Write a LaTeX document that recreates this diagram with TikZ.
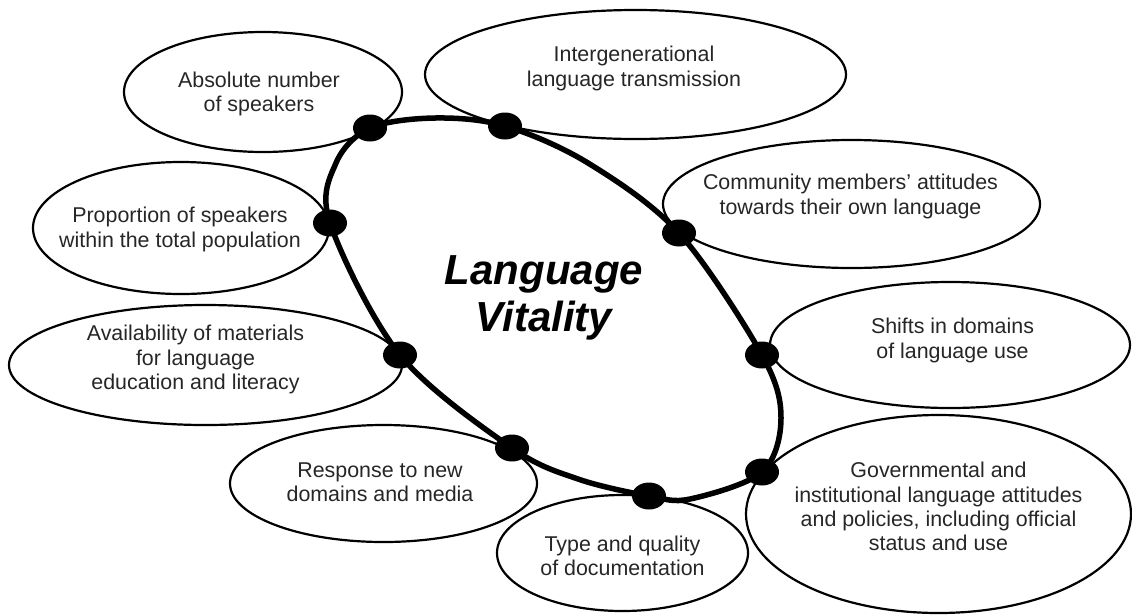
\documentclass[tikz,border=0pt]{standalone}
\usepackage{fontspec}
\setmainfont{Liberation Sans}
\usetikzlibrary{shapes.geometric}
\begin{document}
\begin{tikzpicture}[x=1pt,y=-1pt,
  sat/.style={ellipse,draw,line width=2.2pt,inner sep=0pt},
  lbl/.style={align=center,font=\fontsize{21.4}{24.3}\selectfont,text=black!85,inner sep=0pt},
  dotnode/.style={ellipse,fill=black,minimum width=34pt,minimum height=27pt,inner sep=0pt},
  rim/.style={line width=5.5pt}]
\useasboundingbox (0,0) rectangle (1132,614);
% satellite ellipses
\node[sat,minimum width=278pt,minimum height=120pt] (e1) at (263,92) {};
\node[sat,minimum width=421pt,minimum height=129pt] (e2) at (635.5,74.5) {};
\node[sat,minimum width=377pt,minimum height=128pt] (e3) at (851.5,204) {};
\node[sat,minimum width=360pt,minimum height=126pt] (e4) at (950,345) {};
\node[sat,minimum width=385pt,minimum height=198pt] (e5) at (938.5,514) {};
\node[sat,minimum width=251pt,minimum height=116pt] (e6) at (622.5,553) {};
\node[sat,minimum width=307pt,minimum height=117pt] (e7) at (383.5,483.5) {};
\node[sat,minimum width=393pt,minimum height=120pt] (e8) at (205.5,365) {};
\node[sat,minimum width=296pt,minimum height=132pt] (e9) at (181,228) {};
% labels
\node[lbl] (t1) at (259,94) {Absolute number\\of speakers};
\node[lbl] (t2) at (634,68.5) {Intergenerational\\language transmission};
\node[lbl] (t3) at (850.5,196.5) {Community members’ attitudes\\towards their own language};
\node[lbl] (t4) at (952.5,340.5) {Shifts in domains\\of language use};
\node[lbl] (t5) at (938.5,506.5) {Governmental and\\institutional language attitudes\\and policies, including official\\status and use};
\node[lbl] (t6) at (622.5,555.5) {Type and quality\\of documentation};
\node[lbl] (t7) at (380,482) {Response to new\\domains and media};
\node[lbl] (t8) at (195.5,359.5) {Availability of materials\\for language\\education and literacy};
\node[lbl] (t9) at (180,229.5) {Proportion of speakers\\within the total population};
% central rim
\coordinate (p1) at (370,128);
\coordinate (q12) at (435,118);
\coordinate (p2) at (505,126);
\coordinate (q23) at (588,163);
\coordinate (p3) at (679,233);
\coordinate (p4) at (762,355);
\coordinate (q45) at (781,418);
\coordinate (p5) at (762,472);
\coordinate (q56) at (690,499);
\coordinate (p6) at (649,496);
\coordinate (q67) at (578,479);
\coordinate (p7) at (512,448);
\coordinate (p8) at (400,355);
\coordinate (p9) at (330,223);
\coordinate (q91) at (336,163);
\draw[rim] plot[smooth cycle,tension=0.55] coordinates {(p1) (q12) (p2) (q23) (p3) (p4) (q45) (p5) (q56) (p6) (q67) (p7) (p8) (p9) (q91)};
\node[font=\fontsize{42}{47}\selectfont\bfseries\itshape,align=center,inner sep=0pt] (title) at (544,298) {Language\\Vitality};
% dots
\foreach \i in {1,...,9} \node[dotnode] (d\i) at (p\i) {};
\end{tikzpicture}
\end{document}
